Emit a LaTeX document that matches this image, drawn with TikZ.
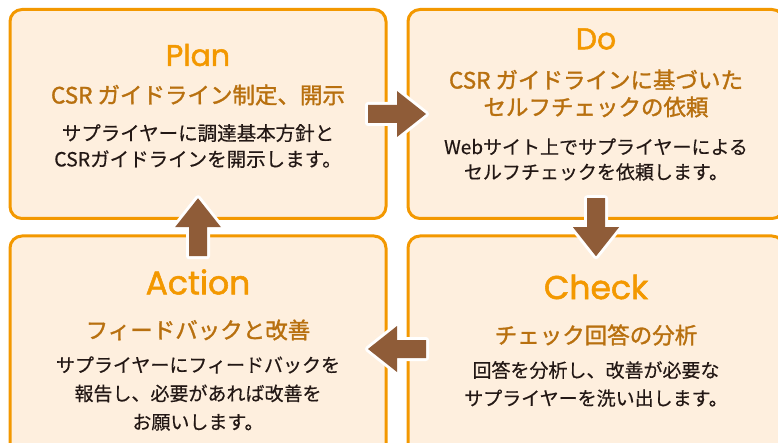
\documentclass[tikz,border=0pt]{standalone}
\usepackage{fontspec}
\setmainfont{Noto Sans CJK JP}[FakeBold = 0.4]
\newfontfamily\titlefont{Poppins}[FakeBold = 1.6]
\newfontfamily\subfont{Noto Sans CJK JP}[FakeBold = 1.4]
\usetikzlibrary{calc}
\definecolor{cycleorange}{HTML}{F39800}
\definecolor{cyclefill}{HTML}{FEEFDE}
\definecolor{cyclebrown}{HTML}{B8700F}
\definecolor{cyclearrow}{HTML}{8F5C38}
\definecolor{cycletext}{HTML}{231815}
\tikzset{
    stagebox/.style = {draw = cycleorange, fill = cyclefill, line width = 3pt,
        rounded corners = 12pt, minimum width = 376pt, inner sep = 0pt},
    stagetitle/.style = {text = cycleorange, inner sep = 0pt, font = \titlefont\fontsize{30}{33}\selectfont},
    stagesub/.style = {text = cyclebrown, inner sep = 0pt, align = center,
        font = \subfont\fontsize{22.5}{27}\selectfont},
    stagebody/.style = {text = cycletext, inner sep = 0pt, align = center,
        font = \fontsize{19}{26}\selectfont},
    bigarrow/.pic = {
        \fill[cyclearrow, preaction = {draw = white, line width = 6pt, line join = round}]
            (-29, -9) -- (0, -9) -- (0, -23) -- (29, 0) -- (0, 23) -- (0, 9) -- (-29, 9) -- cycle;
    }
}
\begin{document}
\begin{tikzpicture}[x = 1pt, y = -1pt]
    \useasboundingbox (0, 0) rectangle (778, 443);
    \clip (0, 0) rectangle (778, 443);

    % boxes
    \node[stagebox, minimum height = 209pt] (plan) at (198, 114) {};
    \node[stagebox, minimum height = 209pt] (do) at (596, 114) {};
    \node[stagebox, minimum height = 226pt] (action) at (198, 349) {};
    \node[stagebox, minimum height = 226pt] (check) at (596, 349) {};

    % Plan
    \node[stagetitle] (plantitle) at (198, 55) {Plan};
    \node[stagesub] (plansub) at (198, 95) {CSR ガイドライン制定、開示};
    \node[stagebody, font = \fontsize{19.5}{26}\selectfont] (planbody) at (198, 146) {サプライヤーに調達基本方針と\\CSRガイドラインを開示します。};

    % Do
    \node[stagetitle] (dotitle) at (596, 39) {Do};
    \node[stagesub] (dosub) at (596, 93.5) {CSR ガイドラインに基づいた\\セルフチェックの依頼};
    \node[stagebody, font = \fontsize{19}{25}\selectfont] (dobody) at (596, 159.5) {Webサイト上でサプライヤーによる\\セルフチェックを依頼します。};

    % Check
    \node[stagetitle, font = \titlefont\fontsize{33}{36}\selectfont] (checktitle) at (596, 287) {Check};
    \node[stagesub] (checksub) at (596, 335) {チェック回答の分析};
    \node[stagebody, font = \fontsize{19}{28}\selectfont] (checkbody) at (596, 384) {回答を分析し、改善が必要な\\サプライヤーを洗い出します。};

    % Action
    \node[stagetitle, font = \titlefont\fontsize{33}{36}\selectfont] (actiontitle) at (198, 282) {Action};
    \node[stagesub] (actionsub) at (198, 330) {フィードバックと改善};
    \node[stagebody, font = \fontsize{19}{28.5}\selectfont] (actionbody) at (198, 393.5) {サプライヤーにフィードバックを\\報告し、必要があれば改善を\\お願いします。};

    % arrows
    \pic at ($(plan.east)!0.5!(do.west)$) {bigarrow};
    \pic[rotate = -90] at ($(do.south)!0.5!(check.north)$) {bigarrow};
    \pic[rotate = 180] at ($(check.west)!0.5!(action.east)$) {bigarrow};
    \pic[rotate = 90] at ($(action.north)!0.5!(plan.south)$) {bigarrow};
\end{tikzpicture}
\end{document}
